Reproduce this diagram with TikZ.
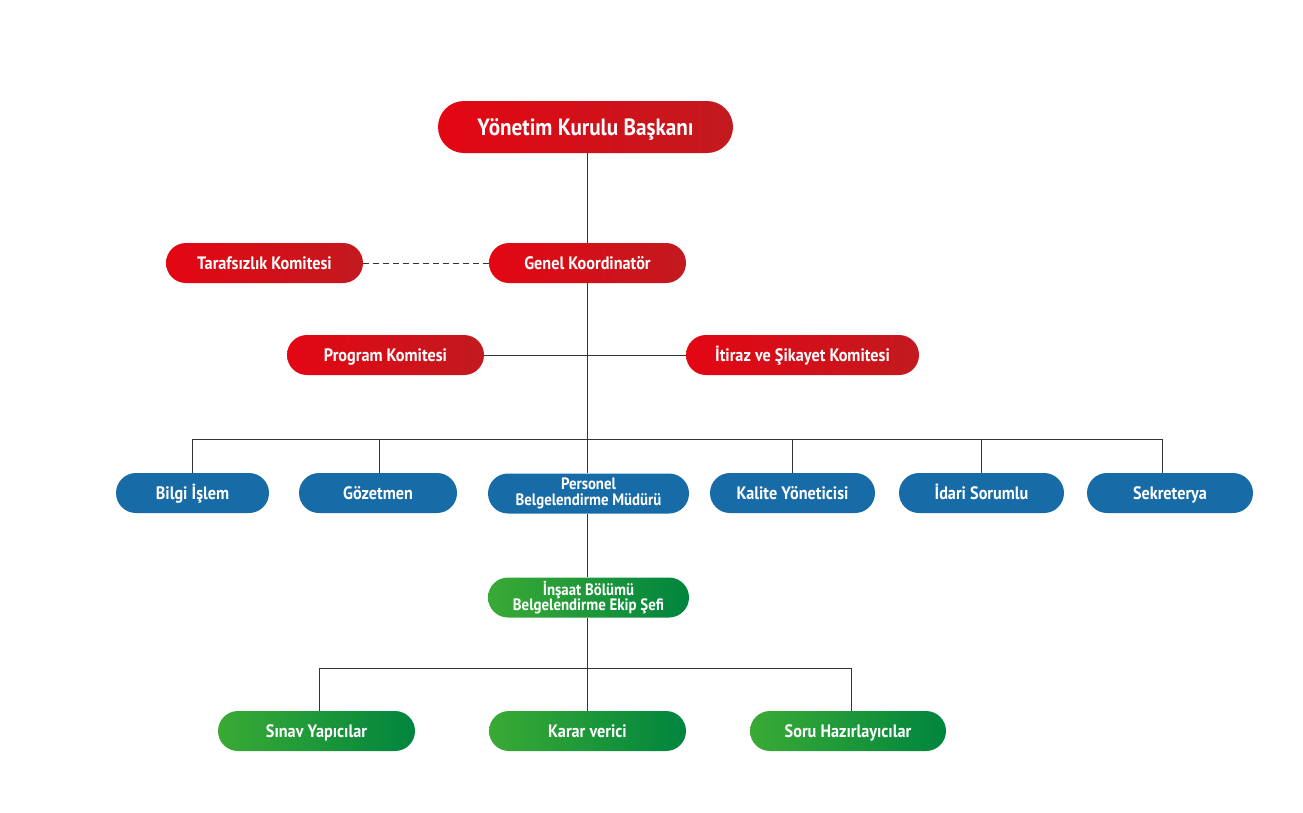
\documentclass[tikz,border=0pt]{standalone}
\usepackage{fontspec}
\setmainfont{PT Sans}[FakeStretch=0.9]
\definecolor{redL}{HTML}{E30613}
\definecolor{redR}{HTML}{C21A1F}
\definecolor{bluebox}{HTML}{176BA7}
\definecolor{greenL}{HTML}{3AAA35}
\definecolor{greenR}{HTML}{00853E}
\definecolor{linec}{HTML}{333333}
\pgfdeclarehorizontalshading{redsh}{100bp}{color(0bp)=(redL); color(25bp)=(redL); color(75bp)=(redR); color(100bp)=(redR)}
\pgfdeclarehorizontalshading{greensh}{100bp}{color(0bp)=(greenL); color(25bp)=(greenL); color(75bp)=(greenR); color(100bp)=(greenR)}
\tikzset{
  box/.style={rounded corners=20pt, minimum height=40pt, inner sep=0pt, align=center,
    text=white, font=\bfseries\fontsize{18}{18}\selectfont},
  one/.style={text height=14.5pt, text depth=2.5pt},
  two/.style={font=\bfseries\fontsize{16.5}{15.5}\selectfont},
  redbox/.style={box, shading=redsh},
  bluebox/.style={box, fill=bluebox},
  greenbox/.style={box, shading=greensh},
  conn/.style={draw=linec, line width=1pt},
}
\begin{document}
\begin{tikzpicture}[x=1pt,y=-1pt]
\useasboundingbox (0,0) rectangle (1303,812);
% nodes
\node[redbox, rounded corners=26pt, minimum height=52pt, minimum width=295pt, font=\bfseries\fontsize{23.5}{25}\selectfont, text height=19pt, text depth=3pt] (ykb) at (585.5,127) {Yönetim Kurulu Başkanı};
\node[redbox, one, minimum width=197pt] (tk) at (264.5,263) {Tarafsızlık Komitesi};
\node[redbox, one, minimum width=197pt] (gk) at (587.5,263) {Genel Koordinatör};
\node[redbox, one, minimum width=197pt] (pk) at (385.5,355) {Program Komitesi};
\node[redbox, one, minimum width=233pt] (isk) at (802.5,355) {İtiraz ve Şikayet Komitesi};

\node[bluebox, one, minimum width=153pt] (bi) at (192.5,493) {Bilgi İşlem};
\node[bluebox, one, minimum width=158pt] (gz) at (378,493) {Gözetmen};
\node[bluebox, two, minimum width=201pt] (pbm) at (588.5,493.5) {Personel\\Belgelendirme Müdürü};
\node[bluebox, one, minimum width=165pt] (ky) at (792.5,493) {Kalite Yöneticisi};
\node[bluebox, one, minimum width=165pt] (is) at (981.5,493) {İdari Sorumlu};
\node[bluebox, one, minimum width=166pt] (sk) at (1170,493) {Sekreterya};

\node[greenbox, two, minimum width=201pt] (ibs) at (588.5,597.5) {İnşaat Bölümü\\Belgelendirme Ekip Şefi};
\node[greenbox, one, minimum width=197pt] (sy) at (316.5,731) {Sınav Yapıcılar};
\node[greenbox, one, minimum width=197pt] (kv) at (587.5,731) {Karar verici};
\node[greenbox, one, minimum width=196pt] (sh) at (848,731) {Soru Hazırlayıcılar};

% coordinates
\coordinate (busL) at (192,439);
\coordinate (busR) at (1162,439);
\coordinate (gbusL) at (319,668);
\coordinate (gbusR) at (851,668);
\coordinate (gzc) at (379,439);
\coordinate (kyc) at (792.5,439);
\coordinate (isc) at (981.5,439);
\coordinate (spine) at (587,0);

% connectors
\draw[conn] (ykb.south -| spine) -- (gk.north -| spine);
\draw[conn] (gk.south -| spine) -- (pbm.north -| spine);
\draw[conn] (pbm.south -| spine) -- (ibs.north -| spine);
\draw[conn] (ibs.south -| spine) -- (kv.north -| spine);
\draw[conn, dash pattern=on 6pt off 4pt] (tk.east) -- (gk.west);
\draw[conn] (pk.east) -- (isk.west);
\draw[conn] (busL) -- (busR);
\draw[conn] (busL) -- (bi.north -| busL);
\draw[conn] (gzc) -- (gz.north -| gzc);
\draw[conn] (kyc) -- (ky.north -| kyc);
\draw[conn] (isc) -- (is.north -| isc);
\draw[conn] (busR) -- (sk.north -| busR);
\draw[conn] (gbusL) -- (gbusR);
\draw[conn] (gbusL) -- (sy.north -| gbusL);
\draw[conn] (gbusR) -- (sh.north -| gbusR);
\end{tikzpicture}
\end{document}
